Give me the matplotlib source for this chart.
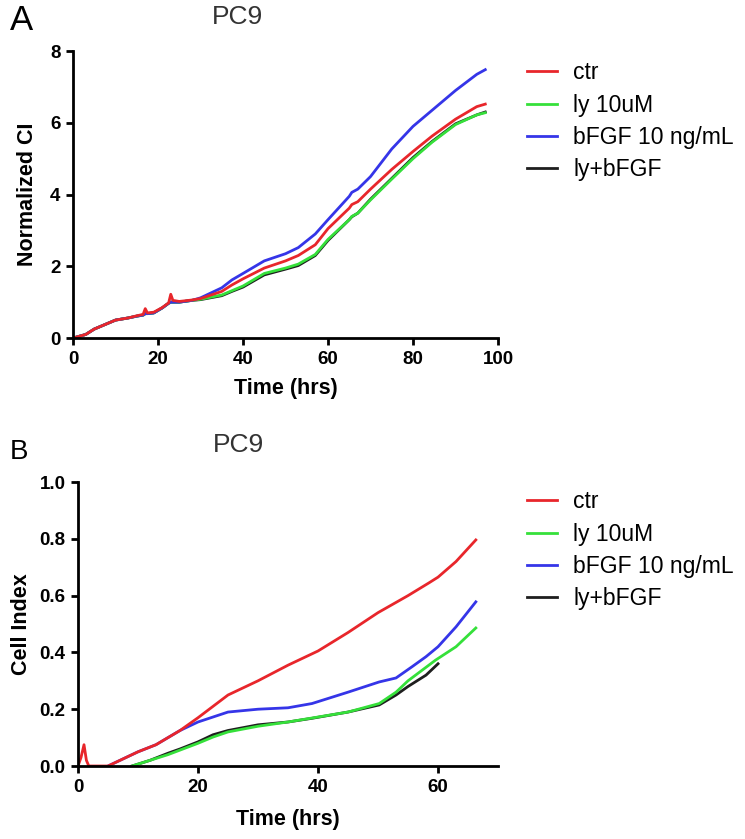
import matplotlib
matplotlib.use('Agg')
import matplotlib.pyplot as plt

plt.rcParams['font.family'] = ['Liberation Sans', 'DejaVu Sans']

labels = ['ctr', 'ly 10uM', 'bFGF 10 ng/mL', 'ly+bFGF']
colors = ['#e8262b', '#35e03a', '#3535e8', '#1e1e1e']

# panel A: normalized cell index (first 30 hrs shared, ctr has the two spikes)
tA_early = [0, 3, 5, 8, 10, 13, 15, 16.5, 17, 17.5, 19, 21, 22.5, 23, 23.5, 25, 28]
ctrA_early = [0, 0.1, 0.25, 0.4, 0.5, 0.56, 0.62, 0.66, 0.82, 0.7, 0.72, 0.85, 0.98, 1.22, 1.05, 1.02, 1.06]
otherA_early = [0, 0.1, 0.25, 0.4, 0.5, 0.56, 0.61, 0.64, 0.68, 0.68, 0.7, 0.84, 0.97, 1.0, 1.0, 1.0, 1.05]

tA = [30, 35, 37.4, 40, 45, 50, 53, 57, 60, 65, 65.6, 67, 70, 75, 80, 84.5, 90, 95, 97]
ctrA = [1.1, 1.3, 1.48, 1.65, 1.95, 2.15, 2.3, 2.6, 3.05, 3.62, 3.72, 3.8, 4.15, 4.7, 5.2, 5.63, 6.1, 6.45, 6.52]
lyA = [1.08, 1.2, 1.32, 1.45, 1.8, 1.95, 2.06, 2.33, 2.75, 3.3, 3.39, 3.48, 3.85, 4.43, 5.0, 5.46, 5.95, 6.22, 6.28]
bfgfA = [1.12, 1.4, 1.62, 1.8, 2.15, 2.35, 2.52, 2.9, 3.3, 3.95, 4.06, 4.15, 4.5, 5.27, 5.9, 6.35, 6.9, 7.35, 7.48]
lybfgfA = [1.07, 1.18, 1.3, 1.42, 1.76, 1.92, 2.02, 2.3, 2.72, 3.3, 3.38, 3.48, 3.87, 4.45, 5.03, 5.48, 5.97, 6.22, 6.3]

# panel B: cell index
tB_ctr = [0, 0.5, 1.0, 1.4, 1.8, 5, 8, 10, 13, 15, 17, 20, 25, 30, 35, 40, 45, 50, 55, 58.5, 60, 63, 66.3]
ctrB = [0, 0.03, 0.075, 0.02, 0, 0, 0.03, 0.05, 0.075, 0.1, 0.125, 0.17, 0.25, 0.3, 0.355, 0.405, 0.47, 0.54, 0.6, 0.645, 0.665, 0.72, 0.796]
tB_bfgf = [5, 8, 10, 13, 15, 17, 20, 25, 30, 35, 39, 45, 50.2, 53, 55.7, 58, 60, 63, 66.3]
bfgfB = [0, 0.03, 0.05, 0.075, 0.1, 0.125, 0.155, 0.19, 0.2, 0.205, 0.22, 0.26, 0.296, 0.31, 0.35, 0.385, 0.42, 0.49, 0.578]
tB_ly = [9, 12, 15, 17, 20, 22.5, 25, 30, 35, 39, 45, 50.2, 53, 55, 59.6, 63, 66.3]
lyB = [0, 0.02, 0.04, 0.056, 0.08, 0.102, 0.12, 0.14, 0.155, 0.169, 0.19, 0.22, 0.26, 0.3, 0.373, 0.42, 0.486]
tB_lyb = [9, 12, 15, 17, 20, 22.5, 25, 30, 35, 39, 45, 50.2, 53, 55, 58, 60]
lybfgfB = [0, 0.02, 0.045, 0.06, 0.085, 0.11, 0.125, 0.145, 0.155, 0.168, 0.19, 0.215, 0.25, 0.28, 0.32, 0.36]


def style(ax):
    for s in ['top', 'right']:
        ax.spines[s].set_visible(False)
    for s in ['left', 'bottom']:
        ax.spines[s].set_linewidth(2)
    ax.tick_params(width=2, length=5, labelsize=13.5, direction='out', pad=4)
    for lab in ax.get_xticklabels() + ax.get_yticklabels():
        lab.set_fontweight('bold')


fig = plt.figure(figsize=(7.45, 8.39), dpi=100)
order = [3, 1, 2, 0]

axA = fig.add_axes([0.0980, 0.5971, 0.5705, 0.3421])
axA.plot(tA_early + tA, otherA_early + lybfgfA, color=colors[3], lw=2, label=labels[3])
axA.plot(tA_early + tA, otherA_early + lyA, color=colors[1], lw=2, label=labels[1])
axA.plot(tA_early + tA, otherA_early + bfgfA, color=colors[2], lw=2, label=labels[2])
axA.plot(tA_early + tA, ctrA_early + ctrA, color=colors[0], lw=2, label=labels[0])
axA.set_xlim(0, 100)
axA.set_ylim(0, 8)
axA.set_xticks([0, 20, 40, 60, 80, 100])
axA.set_yticks([0, 2, 4, 6, 8])
axA.set_xlabel('Time (hrs)', fontsize=15.5, fontweight='bold')
axA.set_ylabel('Normalized CI', fontsize=15.5, fontweight='bold')
axA.xaxis.set_label_coords(0.5, -0.139)
axA.yaxis.set_label_coords(-0.082, 0.5)
style(axA)
h, l = axA.get_legend_handles_labels()
fig.legend([h[i] for i in order], [l[i] for i in order], loc='upper left',
           bbox_to_anchor=(0.708, 0.9267), bbox_transform=fig.transFigure,
           frameon=False, fontsize=16.5, handlelength=1.3, handletextpad=0.7,
           labelspacing=0.4, borderpad=0, borderaxespad=0)

axB = fig.add_axes([0.1047, 0.0870, 0.5638, 0.3385])
axB.plot(tB_lyb, lybfgfB, color=colors[3], lw=2, label=labels[3])
axB.plot(tB_ly, lyB, color=colors[1], lw=2, label=labels[1])
axB.plot(tB_bfgf, bfgfB, color=colors[2], lw=2, label=labels[2])
axB.plot(tB_ctr, ctrB, color=colors[0], lw=2, label=labels[0])
axB.set_xlim(0, 70)
axB.set_ylim(0, 1.0)
axB.set_xticks([0, 20, 40, 60])
axB.set_yticks([0, 0.2, 0.4, 0.6, 0.8, 1.0])
axB.set_yticklabels(['0.0', '0.2', '0.4', '0.6', '0.8', '1.0'])
axB.set_xlabel('Time (hrs)', fontsize=15.5, fontweight='bold')
axB.set_ylabel('Cell Index', fontsize=15.5, fontweight='bold')
axB.xaxis.set_label_coords(0.5, -0.151)
axB.yaxis.set_label_coords(-0.11, 0.5)
style(axB)
h, l = axB.get_legend_handles_labels()
fig.legend([h[i] for i in order], [l[i] for i in order], loc='upper left',
           bbox_to_anchor=(0.708, 0.4154), bbox_transform=fig.transFigure,
           frameon=False, fontsize=16.5, handlelength=1.3, handletextpad=0.7,
           labelspacing=0.4, borderpad=0, borderaxespad=0)

fig.text(237 / 745, 1 - 17 / 839, 'PC9', fontsize=19, ha='center', va='center', color='#333333')
fig.text(238 / 745, 1 - 445 / 839, 'PC9', fontsize=19, ha='center', va='center', color='#333333')
fig.text(21 / 745, 1 - 21 / 839, 'A', fontsize=25, ha='center', va='center')
fig.text(19 / 745, 1 - 452 / 839, 'B', fontsize=20, ha='center', va='center')

fig.savefig('out.png', dpi=100)
